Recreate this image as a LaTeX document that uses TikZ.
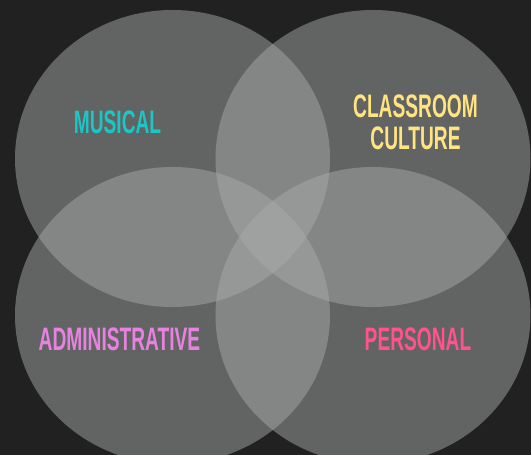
\documentclass[tikz,border=0pt]{standalone}
\usepackage{fontspec}
\setmainfont{Liberation Sans}[FakeStretch=0.59]
\definecolor{bgc}{RGB}{33,33,33}
\definecolor{ellc}{RGB}{170,172,171}
\definecolor{teal}{RGB}{26,198,198}
\definecolor{yel}{RGB}{255,228,128}
\definecolor{vio}{RGB}{232,130,224}
\definecolor{pnk}{RGB}{255,82,142}
\tikzset{
  blob/.style={fill=ellc, fill opacity=0.48},
  lbl/.style={font=\fontsize{32.5}{32}\selectfont\bfseries, align=center, inner sep=0pt}
}
\begin{document}
\begin{tikzpicture}[x=1pt,y=1pt]
\fill[bgc] (0,0) rectangle (531,455);
\useasboundingbox (0,0) rectangle (531,455);
\fill[blob] (172.5,296.5) ellipse [x radius=157.5, y radius=148.5];
\fill[blob] (373,296.5) ellipse [x radius=157.5, y radius=148.5];
\fill[blob] (172.5,139.5) ellipse [x radius=157.5, y radius=148.5];
\fill[blob] (373,139.5) ellipse [x radius=157.5, y radius=148.5];
\node[lbl, text=teal] (mus) at (117.5,333) {MUSICAL};
\node[lbl, text=yel] (cls) at (415.5,332.5) {CLASSROOM\\CULTURE};
\node[lbl, text=vio] (adm) at (119.5,116) {ADMINISTRATIVE};
\node[lbl, text=pnk] (per) at (418,116) {PERSONAL};
\end{tikzpicture}
\end{document}
